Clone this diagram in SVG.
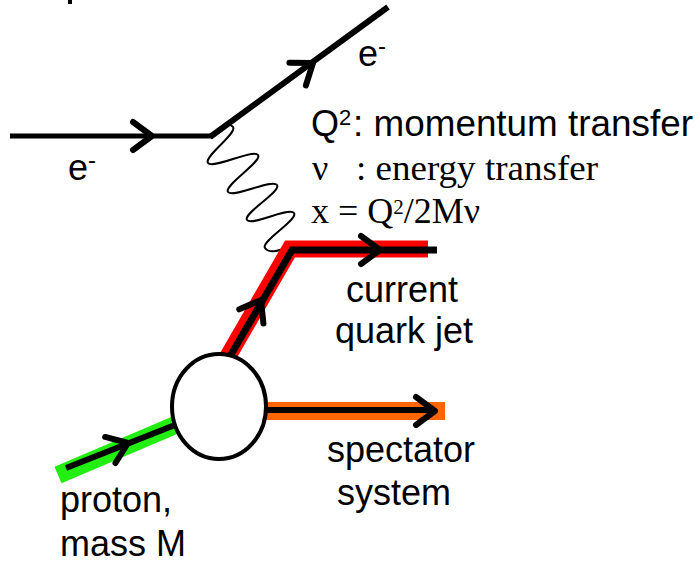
<svg xmlns="http://www.w3.org/2000/svg" width="700" height="563" viewBox="0 0 700 563">
  <style>
    .sans { font-family: "Liberation Sans", Arial, sans-serif; font-size: 36px; fill: #000; }
    .serif { font-family: "Liberation Serif", "Times New Roman", serif; font-size: 36px; fill: #000; }
    .ln { fill: none; stroke: #000; stroke-linejoin: miter; }
    .band { fill: none; stroke-linejoin: miter; stroke-linecap: butt; }
    .chev { fill: none; stroke: #000; stroke-width: 6; stroke-linecap: round; stroke-linejoin: round; }
  </style>
  <defs>
    <path id="chevron" class="chev" d="M-19,-14 L0,0 L-19,14"/>
  </defs>
  <rect width="700" height="563" fill="#fff"/>
  <rect x="68" y="0" width="4" height="4" fill="#000"/>

  <g id="connectors">
    <g id="photon">
      <path fill="none" stroke="#000" stroke-width="2" d="M212,136 C218,130 228.4,120.4 233,127 C237.6,133.6 203.4,156.4 208,163 C212.6,169.6 253.4,148.4 258,155 C262.6,161.6 223.4,185.4 228,192 C232.6,198.6 272.4,178.4 277,185 C281.6,191.6 242.4,213.4 247,220 C251.6,226.6 289.4,206.4 294,213 C298.6,219.6 260.4,241.4 265,248 C269.6,254.6 280,250 290,247"/>
    </g>
    <g id="electron-in">
      <line class="ln" x1="10" y1="136" x2="213" y2="136" stroke-width="5"/>
      <use href="#chevron" transform="translate(152,136)"/>
    </g>
    <g id="electron-out">
      <line class="ln" x1="210" y1="137" x2="388" y2="7" stroke-width="6"/>
      <use href="#chevron" transform="translate(313,63) rotate(-36)"/>
    </g>
    <g id="quark-jet">
      <polyline class="band" stroke="#ff0000" stroke-width="17" points="227,358 290,249 428,249"/>
      <polyline class="ln" stroke-width="7" points="229,358 292,250 437,250"/>
      <use href="#chevron" transform="translate(261,300) rotate(-59.5)"/>
      <use href="#chevron" transform="translate(380,250)"/>
    </g>
    <g id="spectator-line">
      <line class="band" stroke="#ff6600" stroke-width="18" x1="255" y1="411" x2="445" y2="411"/>
      <line class="ln" stroke-width="6" x1="255" y1="410" x2="435" y2="410"/>
      <use href="#chevron" transform="translate(435,411)"/>
    </g>
    <g id="proton-line">
      <line class="band" stroke="#22ee11" stroke-width="18" x1="58" y1="475" x2="180" y2="423"/>
      <line class="ln" stroke-width="6" x1="66" y1="468" x2="180" y2="423"/>
      <use href="#chevron" transform="translate(128,443) rotate(-21.5)"/>
    </g>
  </g>

  <g id="blob">
    <ellipse cx="219" cy="406.5" rx="47" ry="52.5" fill="#fff" stroke="#000" stroke-width="4"/>
  </g>

  <g id="label-e-in">
    <text class="sans" x="68" y="180">e<tspan font-size="24" dy="-12">-</tspan></text>
  </g>
  <g id="label-e-out">
    <text class="sans" x="358" y="66">e<tspan font-size="24" dy="-12">-</tspan></text>
  </g>
  <g id="label-definitions">
    <text class="sans" x="311" y="136">Q<tspan font-size="22" dy="-11">2</tspan></text>
    <text class="sans" x="353" y="136" textLength="340" lengthAdjust="spacingAndGlyphs">: momentum transfer</text>
    <text class="serif" x="312" y="180">ν</text>
    <text class="serif" x="356" y="180" textLength="242" lengthAdjust="spacingAndGlyphs">: energy transfer</text>
    <text class="serif" x="311" y="223">x = Q<tspan font-size="21" dy="-9">2</tspan><tspan dy="9">/2Mν</tspan></text>
  </g>
  <g id="label-current">
    <text class="sans" x="346" y="302">current</text>
    <text class="sans" x="335" y="343">quark jet</text>
  </g>
  <g id="label-spectator">
    <text class="sans" x="327" y="462">spectator</text>
    <text class="sans" x="337" y="505">system</text>
  </g>
  <g id="label-proton">
    <text class="sans" x="60" y="512">proton,</text>
    <text class="sans" x="60" y="556">mass M</text>
  </g>
</svg>
